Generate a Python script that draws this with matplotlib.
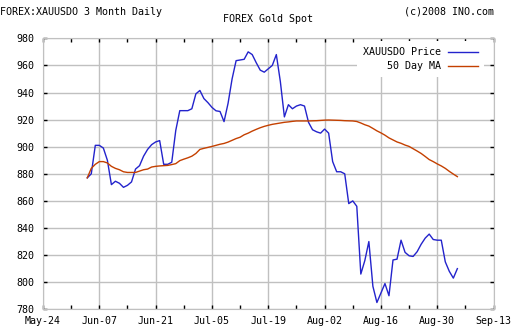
import numpy as np
import matplotlib
matplotlib.use("Agg")
import matplotlib.pyplot as plt

# days counted from May-24 (daily points)
days = list(range(11, 104))

price = [877, 880, 901, 901, 899, 890, 872, 874.5, 873, 870,
         871.5, 874, 883.5, 886, 893, 898, 901.5, 903.5, 904.5, 887,
         887, 888.5, 912, 926.6, 926.6, 926.6, 928, 939, 941.5, 935.5,
         932.5, 929, 926.5, 926, 918.5, 932, 950, 963.5, 964, 964.5,
         970, 968, 962, 956.5, 955, 957.5, 960, 968, 948, 922,
         931, 928, 930, 931, 930, 918, 912.5, 911, 910, 913,
         910, 889, 881.5, 881.5, 880, 858, 860, 856, 806, 816,
         830, 797, 785, 792, 799, 790, 816.4, 817, 831, 822,
         819.5, 819, 822.5, 828, 832.5, 835.5, 831.5, 831, 831, 815,
         808, 803, 810]

ma50 = [877, 884, 887, 889, 889, 888, 885.5, 884, 883, 881.5,
        881, 881, 881, 882, 883, 883.5, 885, 885.5, 885.8, 886,
        886.2, 886.8, 887.5, 889.7, 890.8, 891.8, 893, 895, 898, 898.8,
        899.5, 900.2, 901, 901.8, 902.4, 903.4, 904.7, 906, 907, 908.8,
        910, 911.5, 912.8, 914, 915, 915.8, 916.5, 917, 917.5, 918,
        918.3, 918.7, 919, 919, 919, 919, 919.1, 919.2, 919.4, 919.6,
        919.7, 919.6, 919.5, 919.4, 919.2, 919.1, 919, 918.6, 917.5, 916.2,
        915.2, 913.5, 911.7, 910.2, 908.5, 906.5, 905, 903.5, 902.5, 901.2,
        900.2, 898.5, 896.8, 895, 892.8, 890.5, 889, 887.3, 885.8, 884,
        881.8, 879.8, 877.9]

xlabels = ["May-24", "Jun-07", "Jun-21", "Jul-05", "Jul-19",
           "Aug-02", "Aug-16", "Aug-30", "Sep-13"]
yticks = [780, 800, 820, 840, 860, 880, 900, 920, 940, 960, 980]

mono = "DejaVu Sans Mono"
grid_c = "#c0c0c0"

fig = plt.figure(figsize=(5.12, 3.36), dpi=100)
ax = fig.add_axes([0.084, 0.0795, 0.880, 0.8065])

ax.plot(days, price, color="#2323cc", lw=1.0, label="XAUUSDO Price", zorder=3)
ax.plot(days, ma50, color="#c44000", lw=1.0, label="50 Day MA", zorder=3)

ax.set_xlim(0, 112)
ax.set_ylim(780, 980)
ax.set_xticks(np.arange(0, 113, 14))
ax.set_xticklabels(xlabels)
ax.set_xticks(np.arange(0, 113, 7), minor=True)
ax.set_yticks(yticks)
ax.set_yticklabels([str(v) for v in yticks])

ax.grid(True, which="major", color=grid_c, lw=1.0)
for s in ax.spines.values():
    s.set_color(grid_c)
ax.tick_params(which="both", direction="in", length=3, width=1,
               color="black", top=True, right=True, labelsize=7.2)
ax.tick_params(axis="y", pad=6)
ax.tick_params(axis="x", pad=5)
for lab in ax.get_xticklabels() + ax.get_yticklabels():
    lab.set_family(mono)

leg = ax.legend(loc="upper right", markerfirst=False, frameon=True,
                prop={"family": mono, "size": 7.2}, handlelength=3.0,
                borderaxespad=0.5, labelspacing=0.4, handletextpad=0.7,
                bbox_to_anchor=(0.985, 1.0))
leg.get_frame().set_edgecolor("white")
leg.get_frame().set_alpha(1.0)
leg.get_frame().set_linewidth(0)
leg.get_frame().set_boxstyle("square", pad=0.2)

fig.text(0.0, 0.965, "FOREX:XAUUSDO 3 Month Daily", family=mono, size=7.2,
         ha="left", va="center")
fig.text(0.965, 0.965, "(c)2008 INO.com", family=mono, size=7.2,
         ha="right", va="center")
fig.text(0.524, 0.943, "FOREX Gold Spot", family=mono, size=7.2,
         ha="center", va="center")

fig.savefig("out.png", dpi=100)
